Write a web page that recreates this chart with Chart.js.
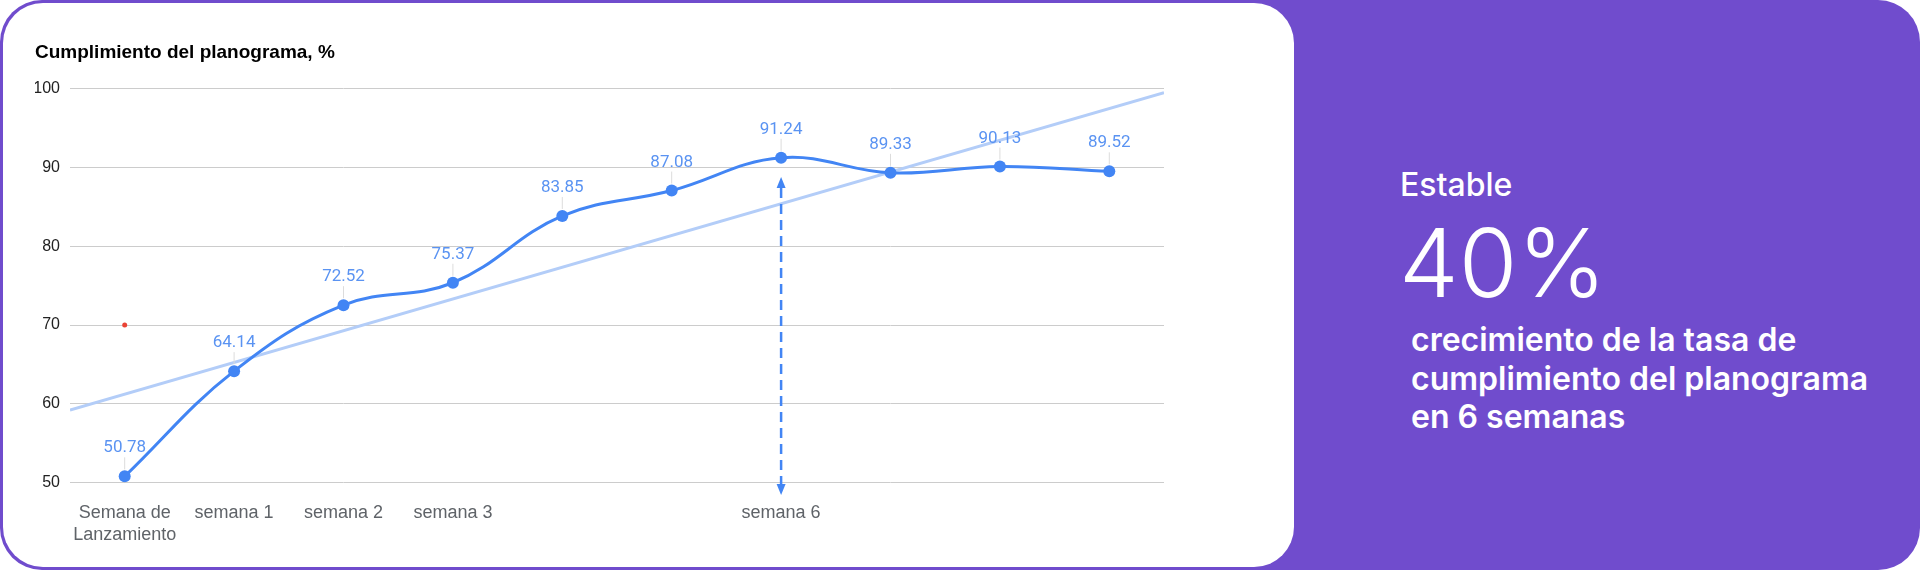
<!DOCTYPE html>
<html>
<head>
<meta charset="utf-8">
<script src="https://cdn.jsdelivr.net/npm/chart.js@4"></script>
<style>
  html, body { margin: 0; padding: 0; background: #ffffff; }
  body { width: 1920px; height: 570px; position: relative; overflow: hidden; }
  .panel { position: absolute; left: 0; top: 0; width: 1920px; height: 570px; background: #704ccd; border-radius: 42px; }
  .card { position: absolute; left: 3px; top: 3px; width: 1291px; height: 564px; background: #ffffff; border-radius: 40px; }
  .chart-box { position: absolute; left: 0; top: 0; width: 1294px; height: 570px; }
  .stat { position: absolute; color: #ffffff; font-family: Inter, "Noto Sans", sans-serif; white-space: nowrap; }
  .stat-label { left: 1400px; top: 165px; font-size: 32px; line-height: 40px; font-weight: 500; }
  .stat-value { left: 1399px; top: 213px; font-size: 95px; line-height: 100px; font-weight: 300; }
  .stat-text { left: 1411px; top: 321px; font-size: 32px; line-height: 38.5px; font-weight: 600; }
</style>
</head>
<body>
<div class="panel"></div>
<div class="card"></div>
<div class="chart-box"><canvas id="chart"></canvas></div>
<div class="stat stat-label">Estable</div>
<div class="stat stat-value">40%</div>
<div class="stat stat-text">crecimiento de la tasa de<br>cumplimiento del planograma<br>en 6 semanas</div>
<script>
const weekLabels = [["Semana de", "Lanzamiento"], "semana 1", "semana 2", "semana 3", "", "", "semana 6", "", "", ""];
const compliance = [50.78, 64.14, 72.52, 75.37, 83.85, 87.08, 91.24, 89.33, 90.13, 89.52];
const trendX = [-0.5, 9.5];
const trendY = [59.2, 99.5];
const redMark = [70, null, null, null, null, null, null, null, null, null];
const arrowIndex = 6;
const arrowTop = 88.8;
const arrowBottom = 48.4;

const BLUE = "#4285f4";

// value labels above each point, with a thin leader line
const pointLabels = {
  id: "pointLabels",
  afterDatasetsDraw(chart) {
    const ctx = chart.ctx;
    const meta = chart.getDatasetMeta(0);
    ctx.save();
    ctx.font = "17px Roboto";
    ctx.textAlign = "center";
    ctx.textBaseline = "alphabetic";
    meta.data.forEach((pt, i) => {
      const baseY = pt.y - 24;
      ctx.strokeStyle = "#dcdcdc";
      ctx.lineWidth = 1;
      ctx.beginPath();
      ctx.moveTo(pt.x, baseY + 5);
      ctx.lineTo(pt.x, pt.y - 7);
      ctx.stroke();
      ctx.fillStyle = "#5a93f2";
      ctx.fillText(compliance[i].toFixed(2), pt.x, baseY);
    });
    ctx.restore();
  },
};

// dashed double arrow at semana 6
const weekArrow = {
  id: "weekArrow",
  afterDatasetsDraw(chart) {
    const ctx = chart.ctx;
    const x = chart.scales.x.getPixelForValue(arrowIndex);
    const y1 = chart.scales.y.getPixelForValue(arrowTop);
    const y2 = chart.scales.y.getPixelForValue(arrowBottom);
    const head = 11, half = 4.5;
    ctx.save();
    ctx.strokeStyle = BLUE;
    ctx.fillStyle = BLUE;
    ctx.lineWidth = 2.5;
    ctx.setLineDash([10, 6]);
    ctx.beginPath();
    ctx.moveTo(x, y1 + head);
    ctx.lineTo(x, y2 - head);
    ctx.stroke();
    ctx.setLineDash([]);
    ctx.beginPath();
    ctx.moveTo(x, y1);
    ctx.lineTo(x - half, y1 + head);
    ctx.lineTo(x + half, y1 + head);
    ctx.closePath();
    ctx.fill();
    ctx.beginPath();
    ctx.moveTo(x, y2);
    ctx.lineTo(x - half, y2 - head);
    ctx.lineTo(x + half, y2 - head);
    ctx.closePath();
    ctx.fill();
    ctx.restore();
  },
};

Chart.defaults.font.family = "'Liberation Sans', Arial, sans-serif";

new Chart(document.getElementById("chart"), {
  type: "line",
  data: {
    labels: weekLabels,
    datasets: [
      {
        label: "Cumplimiento",
        data: compliance,
        borderColor: BLUE,
        backgroundColor: BLUE,
        borderWidth: 3,
        tension: 0.4,
        pointRadius: 6,
        pointBorderWidth: 0,
        pointBackgroundColor: BLUE,
        order: 0,
      },
      {
        label: "Marca",
        data: redMark,
        showLine: false,
        pointRadius: 2.5,
        pointBorderWidth: 0,
        pointBackgroundColor: "#ea4335",
        order: 1,
      },
      {
        label: "Tendencia",
        xAxisID: "xt",
        data: trendX.map((x, i) => ({ x: x, y: trendY[i] })),
        borderColor: "#b3cdf8",
        borderWidth: 3,
        pointRadius: 0,
        tension: 0,
        order: 2,
      },
    ],
  },
  options: {
    responsive: true,
    maintainAspectRatio: false,
    animation: false,
    layout: { padding: { left: 35, right: 130, top: 0, bottom: 0 } },
    plugins: {
      legend: { display: false },
      tooltip: { enabled: false },
      title: {
        display: true,
        text: "Cumplimiento del planograma, %",
        align: "start",
        color: "#000000",
        font: { size: 19, weight: "bold" },
        padding: { top: 41, bottom: 25 },
      },
    },
    scales: {
      x: {
        type: "category",
        offset: true,
        grid: { display: false, drawTicks: false },
        border: { display: false },
        ticks: {
          autoSkip: false,
          maxRotation: 0,
          padding: 20,
          color: "#5f6368",
          font: { size: 18 },
        },
        afterFit(scale) { scale.height = 87.5; },
      },
      xt: {
        type: "linear",
        display: false,
        min: -0.5,
        max: 9.5,
      },
      y: {
        min: 50,
        max: 100,
        ticks: { stepSize: 10, padding: 10, color: "#222222", font: { size: 16 } },
        grid: { color: "#cccccc", lineWidth: 1, drawTicks: false },
        border: { display: false },
        afterFit(scale) { scale.width = 35; },
      },
    },
  },
  plugins: [pointLabels, weekArrow],
});
</script>
</body>
</html>
